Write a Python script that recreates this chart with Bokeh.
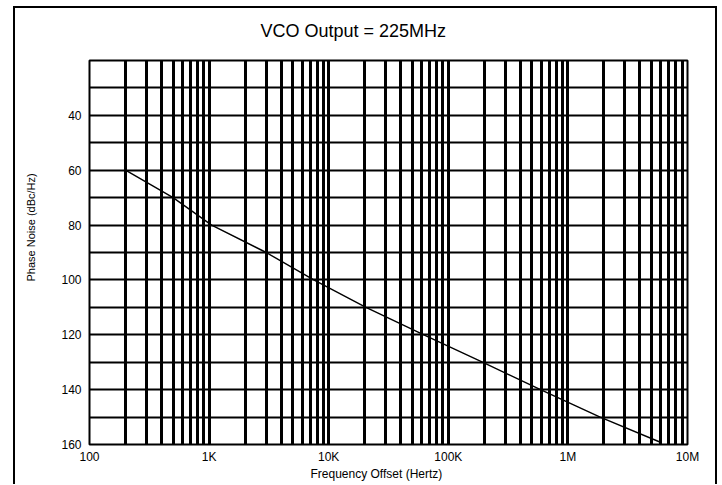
import math
from bokeh.plotting import figure
from bokeh.models import FixedTicker, Range1d, Title
from bokeh.embed import file_html
from bokeh.resources import INLINE

# ---- data ----
freq_hz = [200, 500, 1050, 3000, 7500, 20500, 62500, 193000, 590000, 1860000, 5800000]
phase_noise = [60, 70, 80, 90, 100, 110, 120, 130, 140, 150, 159]

x_ticks = [100, 1000, 10000, 100000, 1000000, 10000000]
x_tick_labels = ["100", "1K", "10K", "100K", "1M", "10M"]
y_ticks = [40, 60, 80, 100, 120, 140, 160]
y_grid = [30, 40, 50, 60, 70, 80, 90, 100, 110, 120, 130, 140, 150]
decades = [100, 1000, 10000, 100000, 1000000]
multipliers = [1, 2, 3, 4, 5, 6, 7, 8, 9]

title_text = "VCO Output = 225MHz"
x_label = "Frequency Offset (Hertz)"
y_label = "Phase Noise (dBc/Hz)"

FONT = "Liberation Sans"

v_lines = [m * d for d in decades for m in multipliers] + [10000000]

# outer frame drawn as CSS background lines behind a transparent canvas border
frame_css = {
    "background-color": "white",
    "background-image": "linear-gradient(#000,#000),linear-gradient(#000,#000),linear-gradient(#000,#000)",
    "background-size": "2px 100%, 704px 2px, 2px 100%",
    "background-position": "13px 6px, 13px 6px, 715px 6px",
    "background-repeat": "no-repeat",
}

p = figure(width=718, height=484, x_axis_type="log",
           x_range=Range1d(100, 1e7), y_range=Range1d(160, 20),
           output_backend="svg", toolbar_location=None,
           min_border_left=88, min_border_right=31,
           min_border_top=60, min_border_bottom=40,
           background_fill_color="white", border_fill_color=None,
           title=title_text, styles=frame_css)

p.title.align = "left"
p.title.offset = 171
p.title.vertical_align = "top"
p.title.standoff = 36
p.title.text_font = FONT
p.title.text_font_size = "18px"
p.title.text_font_style = "normal"
p.title.text_color = "black"

p.outline_line_color = "black"
p.outline_line_width = 2

p.xaxis.ticker = FixedTicker(ticks=x_ticks)
p.xaxis.major_label_overrides = {t: l for t, l in zip(x_ticks, x_tick_labels)}
p.yaxis.ticker = FixedTicker(ticks=y_ticks)

for ax in (p.xaxis[0], p.yaxis[0]):
    ax.axis_line_color = None
    ax.major_tick_line_color = None
    ax.minor_tick_line_color = None
    ax.major_tick_out = 0
    ax.major_tick_in = 0
    ax.minor_tick_out = 0
    ax.minor_tick_in = 0
    ax.major_label_text_font = FONT
    ax.major_label_text_color = "black"

p.xaxis.major_label_text_font_size = "12px"
p.xaxis.major_label_standoff = 5
p.yaxis.major_label_text_font_size = "12px"
p.yaxis.major_label_standoff = 8

p.add_layout(Title(text=y_label, align="left", offset=163, vertical_align="bottom",
                   standoff=44, text_font=FONT, text_font_size="11px",
                   text_font_style="normal", text_color="black"), "left")
p.add_layout(Title(text=x_label, align="left", offset=221, vertical_align="top",
                   standoff=0, text_font=FONT, text_font_size="12px",
                   text_font_style="normal", text_color="black"), "below")

p.xgrid.ticker = FixedTicker(ticks=v_lines)
p.xgrid.grid_line_color = "black"
p.xgrid.grid_line_width = 3
p.xgrid.grid_line_alpha = 1.0
p.ygrid.ticker = FixedTicker(ticks=y_grid)
p.ygrid.grid_line_color = "black"
p.ygrid.grid_line_width = 2.2
p.ygrid.grid_line_alpha = 1.0

p.line(freq_hz, phase_noise, line_color="black", line_width=1.4)

open("out.html", "w").write(file_html(p, INLINE))
